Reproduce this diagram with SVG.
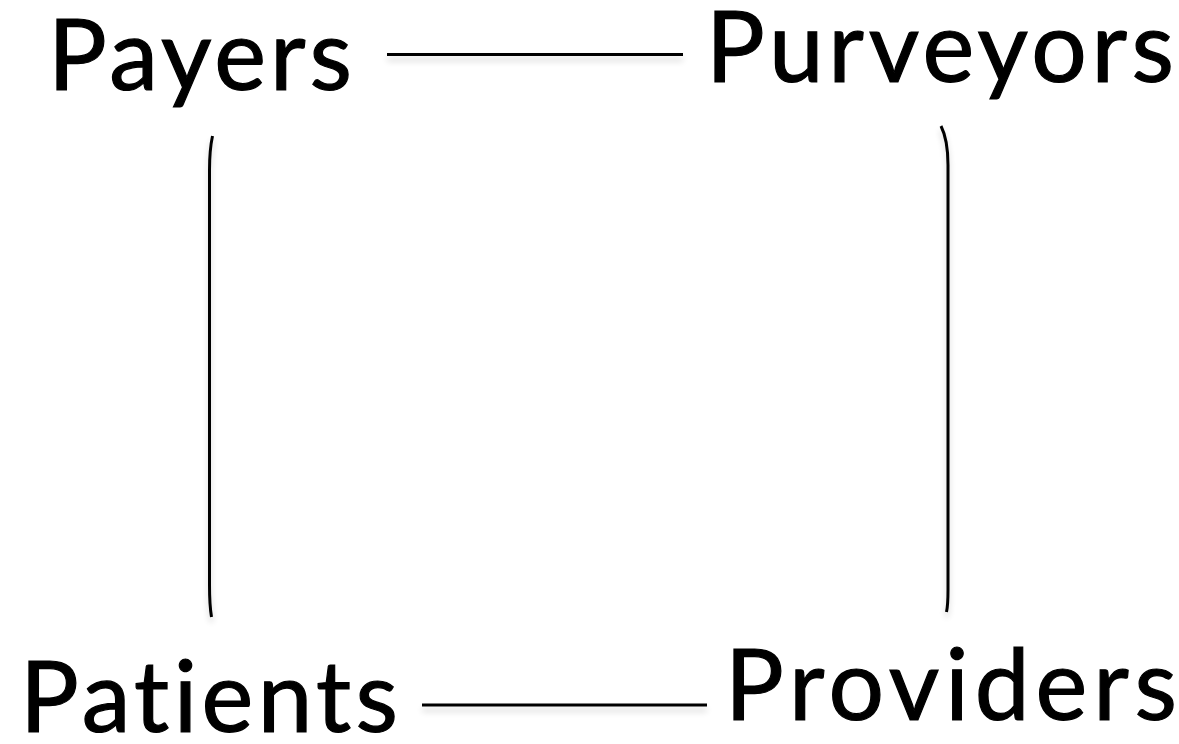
<svg xmlns="http://www.w3.org/2000/svg" width="1179" height="744" viewBox="0 0 1179 744">
  <style>
    .label { font-family: Lato, "Open Sans", "Liberation Sans", sans-serif; font-size: 98px; fill: #000; stroke: #000; stroke-width: 1.2px; font-variant-ligatures: none; }
    .link { fill: none; stroke: #000; stroke-width: 3; stroke-linecap: butt; filter: url(#soft); }
  </style>
  <defs>
    <!-- soft grey drop shadow under each connector; user-space region so flat lines still render -->
    <filter id="soft" filterUnits="userSpaceOnUse" x="0" y="0" width="1179" height="744">
      <feGaussianBlur in="SourceAlpha" stdDeviation="3"/>
      <feOffset dx="0" dy="5" result="b"/>
      <feComponentTransfer in="b" result="s">
        <feFuncA type="linear" slope="0.18"/>
      </feComponentTransfer>
      <feMerge>
        <feMergeNode in="s"/>
        <feMergeNode in="SourceGraphic"/>
      </feMerge>
    </filter>
  </defs>
  <rect width="1179" height="744" fill="#fff"/>

  <g id="connectors">
    <path class="link" d="M387 54.5 H683"/>
    <path class="link" d="M422 705 H707"/>
    <path class="link" d="M212.5 136 Q209.5 150 209.5 170 V585 Q209.5 605 211.5 617"/>
    <path class="link" d="M941 126 Q948 140 948 165 V590 Q948 605 946.5 612"/>
  </g>

  <g id="payers">
    <text class="label" x="48" y="90" textLength="304">Payers</text>
  </g>
  <g id="purveyors">
    <text class="label" x="706" y="82" textLength="468">Purveyors</text>
  </g>
  <g id="patients">
    <text class="label" x="20" y="732" textLength="378">Patients</text>
  </g>
  <g id="providers">
    <text class="label" x="725" y="720" textLength="452">Providers</text>
  </g>
</svg>
